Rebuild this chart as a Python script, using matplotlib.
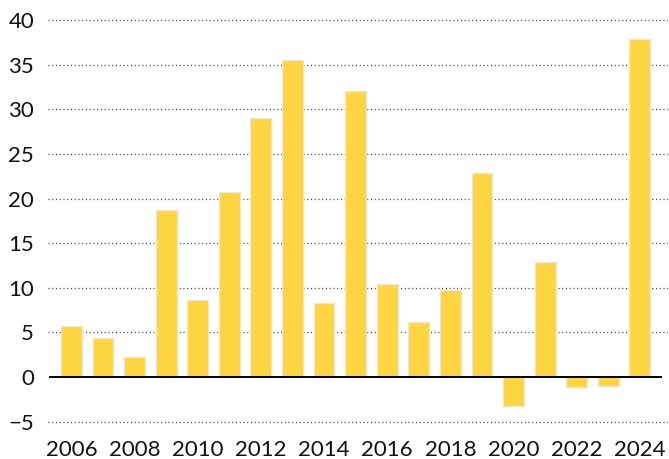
import matplotlib.pyplot as plt

# Annual values, 2006-2024
anos = list(range(2006, 2025))
valores = [5.7, 4.4, 2.2, 18.7, 8.6, 20.7, 29.1, 35.6, 8.3, 32.1,
           10.4, 6.2, 9.8, 22.9, -3.3, 12.9, -1.1, -1.0, 37.9]

rotulos_x = list(range(2006, 2025, 2))
rotulos_y = list(range(-5, 45, 5))

plt.rcParams['font.family'] = ['Lato', 'DejaVu Sans']

fig = plt.figure(figsize=(6.69, 4.59), dpi=100)
ax = fig.add_axes([0.0717, 0.0697, 0.9268, 0.890])

ax.bar(anos, valores, width=0.66, color='#FFD541',
       edgecolor='#EFE6CC', linewidth=1.0, zorder=3)

# dotted grid, solid line at zero
for y in rotulos_y:
    if y != 0:
        ax.axhline(y, color='#333333', linestyle=(0, (0.8, 2.2)),
                   linewidth=0.9, zorder=1)
ax.axhline(0, xmin=0.003, xmax=0.989, color='black', linewidth=1.4, zorder=4)

ax.set_xlim(2005.26, 2024.89)
ax.set_ylim(-5.6, 40.2)
ax.set_xticks(rotulos_x)
ax.set_yticks(rotulos_y)
ax.set_yticklabels([str(v).replace('-', '\u2212') for v in rotulos_y])
ax.tick_params(axis='both', length=0, labelsize=16, colors='#111111')
ax.tick_params(axis='y', pad=10)
ax.tick_params(axis='x', pad=9)

for spine in ax.spines.values():
    spine.set_visible(False)

fig.savefig('out.png', dpi=100)
